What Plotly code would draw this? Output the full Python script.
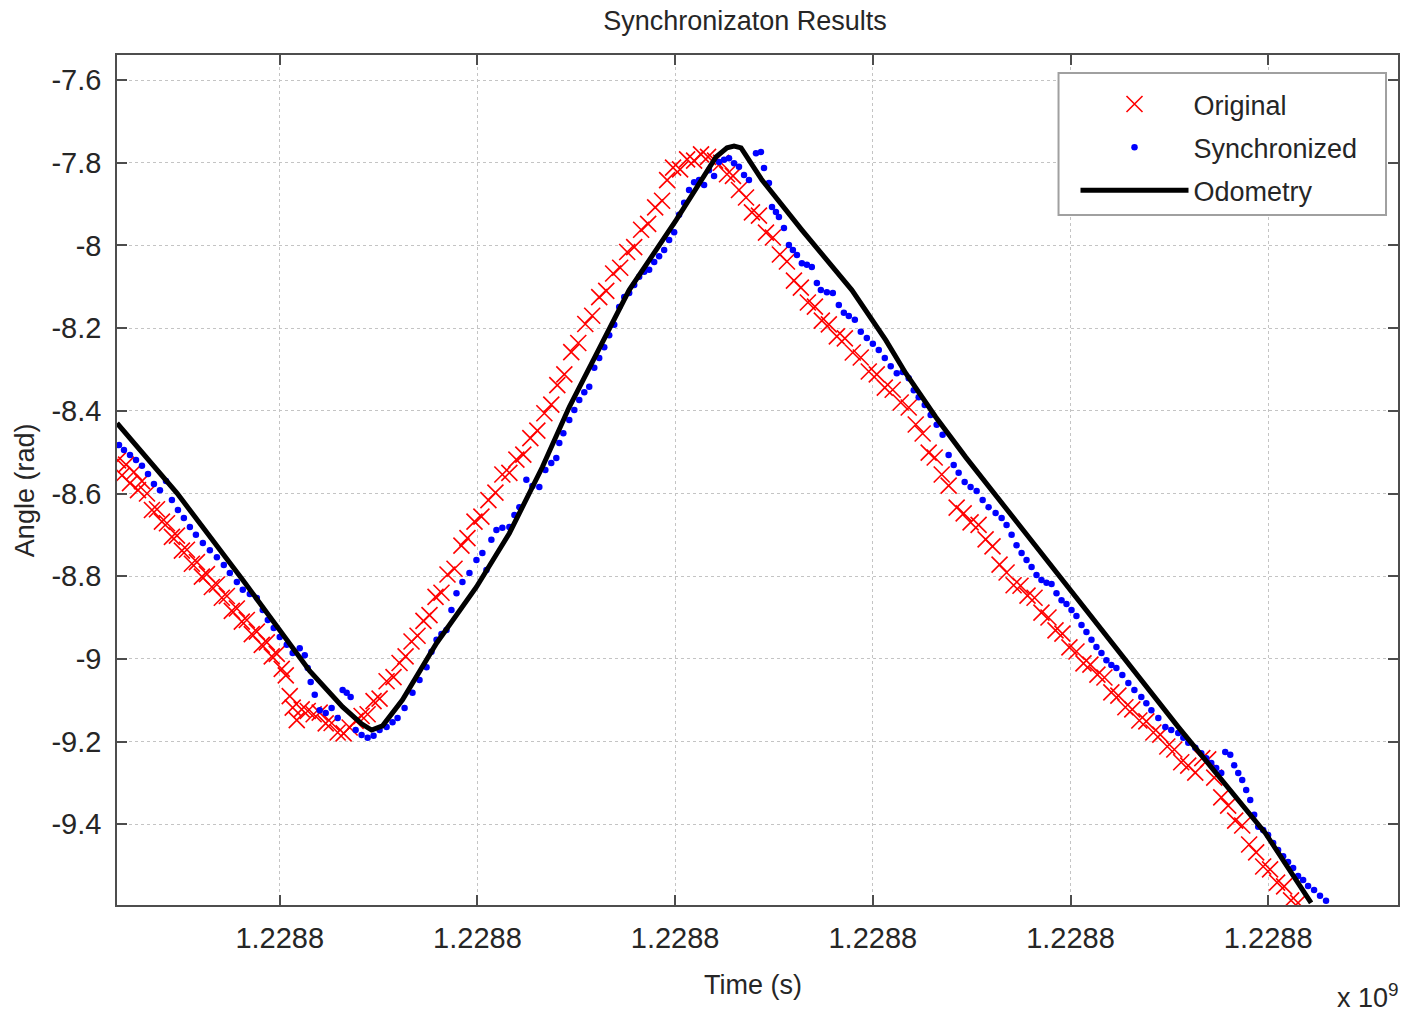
import plotly.graph_objects as go

# ---------------- data (time in s relative to tick grid, angle in rad) ----------------
tick_times = [2, 4, 6, 8, 10, 12]
tick_labels = ["1.2288"] * 6
angle_ticks = [-7.6, -7.8, -8.0, -8.2, -8.4, -8.6, -8.8, -9.0, -9.2, -9.4]
angle_labels = ["-7.6", "-7.8", "-8", "-8.2", "-8.4", "-8.6", "-8.8", "-9", "-9.2", "-9.4"]

orig_t = [0.364,0.404,0.445,0.485,0.525,0.566,0.606,0.657,0.707,0.758,0.808,0.859,0.909,0.960,1.010,1.061,1.111,1.162,1.212,1.263,1.313,1.364,1.414,1.465,1.515,1.566,1.616,1.667,1.717,1.768,1.818,1.869,1.919,1.970,2.020,2.061,2.101,2.131,2.172,2.222,2.283,2.343,2.404,2.465,2.525,2.586,2.646,2.707,2.768,2.828,2.889,2.949,3.010,3.081,3.151,3.212,3.273,3.333,3.394,3.454,3.515,3.576,3.636,3.697,3.768,3.838,3.899,3.970,4.040,4.111,4.182,4.252,4.323,4.394,4.464,4.535,4.606,4.677,4.747,4.808,4.879,4.949,5.020,5.091,5.161,5.232,5.303,5.373,5.444,5.515,5.586,5.656,5.727,5.798,5.868,5.919,5.979,6.050,6.121,6.192,6.262,6.333,6.404,6.464,6.525,6.585,6.646,6.717,6.777,6.848,6.919,6.989,7.060,7.131,7.202,7.272,7.343,7.414,7.484,7.555,7.636,7.717,7.797,7.878,7.959,8.040,8.121,8.201,8.282,8.363,8.434,8.504,8.565,8.626,8.697,8.767,8.848,8.919,8.989,9.070,9.141,9.211,9.282,9.353,9.424,9.494,9.565,9.636,9.706,9.777,9.848,9.918,9.989,10.060,10.131,10.201,10.272,10.343,10.413,10.484,10.555,10.625,10.696,10.767,10.838,10.908,10.979,11.050,11.120,11.191,11.262,11.333,11.393,11.454,11.525,11.595,11.666,11.737,11.807,11.878,11.949,12.019,12.090,12.161,12.231,12.302]
orig_angle = [-8.520,-8.556,-8.530,-8.575,-8.548,-8.592,-8.570,-8.600,-8.640,-8.638,-8.668,-8.672,-8.705,-8.702,-8.738,-8.736,-8.770,-8.766,-8.801,-8.795,-8.826,-8.820,-8.852,-8.848,-8.884,-8.878,-8.910,-8.906,-8.940,-8.934,-8.966,-8.960,-8.994,-8.988,-9.024,-9.040,-9.090,-9.118,-9.148,-9.122,-9.126,-9.134,-9.130,-9.156,-9.155,-9.178,-9.180,-9.166,-9.150,-9.138,-9.134,-9.102,-9.096,-9.054,-9.044,-9.010,-8.994,-8.958,-8.944,-8.908,-8.894,-8.850,-8.840,-8.796,-8.782,-8.726,-8.708,-8.668,-8.656,-8.616,-8.598,-8.554,-8.550,-8.518,-8.506,-8.466,-8.448,-8.406,-8.385,-8.338,-8.312,-8.258,-8.236,-8.190,-8.170,-8.125,-8.110,-8.068,-8.054,-8.016,-8.004,-7.962,-7.948,-7.908,-7.892,-7.842,-7.812,-7.816,-7.792,-7.795,-7.780,-7.786,-7.795,-7.800,-7.828,-7.832,-7.866,-7.884,-7.920,-7.928,-7.969,-7.981,-8.022,-8.039,-8.085,-8.102,-8.138,-8.148,-8.182,-8.191,-8.220,-8.225,-8.259,-8.271,-8.305,-8.312,-8.344,-8.349,-8.380,-8.392,-8.433,-8.455,-8.501,-8.513,-8.554,-8.581,-8.634,-8.648,-8.670,-8.676,-8.711,-8.728,-8.772,-8.791,-8.822,-8.823,-8.847,-8.852,-8.888,-8.900,-8.931,-8.939,-8.972,-8.982,-9.011,-9.014,-9.038,-9.045,-9.081,-9.089,-9.117,-9.122,-9.149,-9.151,-9.178,-9.183,-9.212,-9.219,-9.250,-9.258,-9.275,-9.240,-9.243,-9.287,-9.335,-9.355,-9.391,-9.403,-9.449,-9.468,-9.502,-9.509,-9.541,-9.550,-9.584,-9.590]

sync_t = [0.374,0.424,0.485,0.546,0.606,0.667,0.727,0.788,0.849,0.909,0.970,1.030,1.091,1.152,1.222,1.293,1.364,1.434,1.495,1.566,1.626,1.697,1.768,1.828,1.879,1.939,2.000,2.071,2.131,2.202,2.253,2.283,2.313,2.354,2.404,2.465,2.525,2.586,2.636,2.677,2.717,2.768,2.828,2.889,2.949,3.010,3.081,3.141,3.192,3.263,3.343,3.414,3.485,3.535,3.586,3.636,3.687,3.737,3.788,3.848,3.919,3.990,4.050,4.091,4.141,4.192,4.252,4.323,4.374,4.424,4.495,4.556,4.626,4.687,4.747,4.798,4.828,4.869,4.929,4.980,5.030,5.081,5.131,5.182,5.232,5.283,5.333,5.384,5.434,5.485,5.535,5.586,5.636,5.687,5.737,5.788,5.838,5.889,5.939,5.990,6.040,6.091,6.141,6.192,6.242,6.293,6.343,6.394,6.444,6.495,6.545,6.596,6.646,6.697,6.747,6.818,6.869,6.899,6.949,6.980,7.020,7.050,7.101,7.151,7.191,7.232,7.282,7.333,7.383,7.434,7.474,7.535,7.595,7.656,7.707,7.757,7.818,7.878,7.939,8.000,8.060,8.121,8.181,8.242,8.302,8.363,8.414,8.464,8.525,8.585,8.646,8.706,8.767,8.818,8.868,8.929,8.989,9.050,9.111,9.171,9.242,9.303,9.353,9.404,9.454,9.505,9.555,9.606,9.656,9.706,9.757,9.808,9.858,9.909,9.959,10.010,10.060,10.111,10.161,10.212,10.262,10.313,10.363,10.413,10.464,10.524,10.585,10.646,10.716,10.767,10.818,10.888,10.959,11.019,11.090,11.141,11.191,11.262,11.323,11.373,11.424,11.474,11.525,11.565,11.616,11.656,11.697,11.737,11.777,11.818,11.858,11.899,11.949,11.999,12.050,12.100,12.151,12.201,12.252,12.302,12.353,12.403,12.464,12.524,12.585]
sync_angle = [-8.483,-8.495,-8.507,-8.519,-8.533,-8.553,-8.577,-8.592,-8.570,-8.616,-8.640,-8.659,-8.681,-8.700,-8.720,-8.737,-8.754,-8.773,-8.792,-8.814,-8.833,-8.843,-8.853,-8.882,-8.906,-8.925,-8.947,-8.966,-8.986,-8.974,-8.991,-9.022,-9.056,-9.087,-9.124,-9.131,-9.119,-9.143,-9.075,-9.082,-9.092,-9.172,-9.184,-9.191,-9.186,-9.172,-9.165,-9.153,-9.143,-9.119,-9.082,-9.051,-9.020,-8.983,-8.954,-8.940,-8.930,-8.882,-8.841,-8.814,-8.792,-8.761,-8.744,-8.785,-8.712,-8.688,-8.683,-8.681,-8.652,-8.633,-8.567,-8.582,-8.584,-8.543,-8.526,-8.514,-8.478,-8.454,-8.422,-8.398,-8.374,-8.355,-8.342,-8.296,-8.272,-8.246,-8.217,-8.192,-8.149,-8.125,-8.115,-8.096,-8.076,-8.064,-8.059,-8.040,-8.026,-8.011,-7.987,-7.968,-7.926,-7.897,-7.866,-7.847,-7.842,-7.854,-7.818,-7.832,-7.798,-7.793,-7.789,-7.801,-7.810,-7.830,-7.842,-7.777,-7.774,-7.813,-7.849,-7.907,-7.919,-7.931,-7.958,-7.999,-8.011,-8.023,-8.043,-8.047,-8.052,-8.091,-8.108,-8.113,-8.115,-8.144,-8.163,-8.171,-8.180,-8.209,-8.224,-8.238,-8.253,-8.272,-8.292,-8.309,-8.306,-8.321,-8.350,-8.367,-8.386,-8.410,-8.434,-8.458,-8.507,-8.531,-8.550,-8.572,-8.584,-8.594,-8.616,-8.633,-8.647,-8.659,-8.676,-8.700,-8.725,-8.744,-8.761,-8.778,-8.797,-8.809,-8.816,-8.819,-8.841,-8.858,-8.867,-8.882,-8.896,-8.918,-8.935,-8.954,-8.971,-8.986,-9.003,-9.015,-9.022,-9.039,-9.058,-9.075,-9.092,-9.107,-9.124,-9.143,-9.165,-9.172,-9.179,-9.191,-9.203,-9.215,-9.228,-9.240,-9.252,-9.264,-9.276,-9.225,-9.232,-9.257,-9.276,-9.293,-9.317,-9.341,-9.377,-9.406,-9.414,-9.426,-9.445,-9.462,-9.477,-9.491,-9.506,-9.525,-9.535,-9.549,-9.559,-9.573,-9.585]

odom_t = [0.354,0.960,1.626,2.303,2.636,2.828,2.929,3.040,3.242,3.586,3.990,4.323,4.657,4.929,5.535,6.010,6.414,6.525,6.596,6.667,6.879,7.283,7.788,8.131,8.333,8.636,8.939,9.980,11.091,11.970,12.434]
odom_angle = [-8.430,-8.599,-8.809,-9.029,-9.116,-9.157,-9.172,-9.162,-9.099,-8.962,-8.826,-8.696,-8.536,-8.391,-8.108,-7.939,-7.786,-7.764,-7.760,-7.764,-7.842,-7.963,-8.108,-8.229,-8.309,-8.415,-8.512,-8.826,-9.165,-9.421,-9.590]

assert len(orig_t) == len(orig_angle), (len(orig_t), len(orig_angle))
assert len(sync_t) == len(sync_angle), (len(sync_t), len(sync_angle))

FONT = "Liberation Sans, Arial, Helvetica, sans-serif"
TXT = "#262626"
AXC = "#4d4d4d"

fig = go.Figure()
fig.add_trace(go.Scatter(
    x=orig_t, y=orig_angle, mode="markers", name="Original", legendgroup="a",
    marker=dict(symbol="x-thin", size=16, color="#ff0000",
                line=dict(color="#ff0000", width=1.6)),
))
fig.add_trace(go.Scatter(
    x=sync_t, y=sync_angle, mode="markers", name="Synchronized", legendgroup="b",
    marker=dict(symbol="circle", size=6.5, color="#0000ff", line=dict(width=0)),
))
fig.add_trace(go.Scatter(
    x=odom_t, y=odom_angle, mode="lines", name="Odometry", legendgroup="c",
    line=dict(color="#000000", width=5),
))

axis_common = dict(
    showline=True, linecolor=AXC, linewidth=1.5, mirror="ticks",
    ticks="inside", ticklen=10, tickwidth=1.5, tickcolor=AXC,
    showgrid=True, gridcolor="#c4c4c4", gridwidth=1, griddash="dot",
    zeroline=False, tickfont=dict(family=FONT, size=29, color=TXT),
)

def px_x(p):
    return (p - 117) / 1283

def px_y(p):
    return (905 - p) / 850

fig.update_layout(
    width=1402, height=1016,
    margin=dict(l=117, r=2, t=55, b=111),
    paper_bgcolor="white", plot_bgcolor="white",
    font=dict(family=FONT, size=27, color=TXT),
    title=dict(text="Synchronizaton Results", x=745/1402, xanchor="center",
               y=1 - 21/1016, yanchor="middle", yref="container",
               font=dict(family=FONT, size=27, color=TXT)),
    xaxis=dict(range=[0.3535, 13.313], tickvals=tick_times, ticktext=tick_labels,
               ticklabelstandoff=6, **axis_common),
    yaxis=dict(range=[-9.5952, -7.5395], tickvals=angle_ticks, ticktext=angle_labels,
               ticklabelstandoff=8, **axis_common),
    legend=dict(x=px_x(1077), y=px_y(80), xanchor="left", yanchor="top",
                bgcolor="rgba(255,255,255,0)", borderwidth=0,
                font=dict(family=FONT, size=27, color=TXT),
                itemwidth=108, tracegroupgap=5),
    showlegend=True,
)

fig.add_shape(type="rect", xref="paper", yref="paper",
              x0=px_x(1060), x1=px_x(1388), y0=px_y(215), y1=px_y(73),
              line=dict(color="#a0a0a0", width=2), fillcolor="white", layer="above")

fig.add_annotation(text="Time (s)", xref="paper", yref="paper",
                   x=px_x(754), y=px_y(985), showarrow=False,
                   xanchor="center", yanchor="middle",
                   font=dict(family=FONT, size=27, color=TXT))
fig.add_annotation(text="Angle (rad)", xref="paper", yref="paper",
                   x=px_x(25), y=px_y(490), showarrow=False, textangle=-90,
                   xanchor="center", yanchor="middle",
                   font=dict(family=FONT, size=27, color=TXT))
fig.add_annotation(text="x 10<sup>9</sup>", xref="paper", yref="paper",
                   x=px_x(1403), y=px_y(996), showarrow=False,
                   xanchor="right", yanchor="middle",
                   font=dict(family=FONT, size=27, color=TXT))

fig.write_html("out.html")
